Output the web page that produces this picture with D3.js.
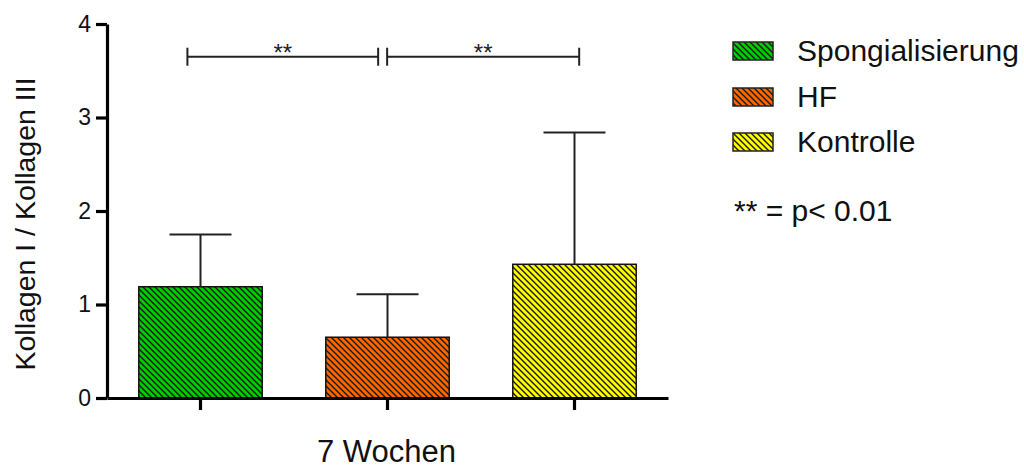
<!DOCTYPE html>
<html>
<head>
<meta charset="utf-8">
<script src="https://cdn.jsdelivr.net/npm/d3@7"></script>
<style>
  html, body { margin: 0; padding: 0; background: #fff; }
  svg { display: block; font-family: "Liberation Sans", Arial, sans-serif; }
</style>
</head>
<body>
<svg id="chart" width="1024" height="468"></svg>
<script>
// ---- data ----
const categories = ["Spongialisierung", "HF", "Kontrolle"];
const means = [1.19, 0.65, 1.43];
const errorsUp = [0.56, 0.46, 1.41];
const colors = ["#00CC00", "#FF6600", "#FFFF00"];
const yTicks = [0, 1, 2, 3, 4];
const groupLabel = "7 Wochen";
const yLabel = "Kollagen I / Kollagen III";
// significance brackets (positions in category-index units)
const sigFrom = [-0.07, 0.998];
const sigTo = [0.95, 2.025];
const sigValue = 3.65;
const sigLabel = ["**", "**"];
const noteText = "** = p< 0.01";

// ---- layout ----
const svg = d3.select("#chart");
const plotLeft = 107, plotRight = 668, plotTop = 24, plotBottom = 398;

const y = d3.scaleLinear().domain([0, 4]).range([plotBottom, plotTop]);
const x = d3.scaleBand().domain(categories).range([plotLeft, plotRight])
  .paddingInner(0.34).paddingOuter(0.17);
const xi = d3.scaleLinear().domain([0, 1]).range([x(categories[0]) + x.bandwidth()/2, x(categories[1]) + x.bandwidth()/2]);

// hatch patterns
const defs = svg.append("defs");
colors.forEach((c, i) => {
  const p = defs.append("pattern")
    .attr("id", "hatch" + i)
    .attr("patternUnits", "userSpaceOnUse")
    .attr("width", 6).attr("height", 6);
  p.append("rect").attr("width", 6).attr("height", 6).attr("fill", c);
  p.append("path")
    .attr("d", "M-1,-1 L7,7 M-4,2 L2,8 M4,-2 L8,2")
    .attr("stroke", "#1a1a1a").attr("stroke-width", 1.4);
});

// bars
svg.append("g").selectAll("rect").data(categories).join("rect")
  .attr("x", d => x(d))
  .attr("y", (d, i) => y(means[i]))
  .attr("width", x.bandwidth())
  .attr("height", (d, i) => y(0) - y(means[i]))
  .attr("fill", (d, i) => "url(#hatch" + i + ")")
  .attr("stroke", "#111").attr("stroke-width", 1.5);

// error bars (upper only)
const capW = 62;
const eb = svg.append("g").attr("stroke", "#222").attr("stroke-width", 2);
categories.forEach((d, i) => {
  const cx = x(d) + x.bandwidth()/2;
  eb.append("line").attr("x1", cx).attr("x2", cx)
    .attr("y1", y(means[i])).attr("y2", y(means[i] + errorsUp[i]));
  eb.append("line").attr("x1", cx - capW/2).attr("x2", cx + capW/2)
    .attr("y1", y(means[i] + errorsUp[i])).attr("y2", y(means[i] + errorsUp[i]));
});

// y axis
const yAxis = svg.append("g").attr("transform", `translate(${plotLeft},0)`)
  .call(d3.axisLeft(y).tickValues(yTicks).tickFormat(d3.format("d"))
    .tickSize(11).tickSizeOuter(0).tickPadding(5));
yAxis.select(".domain").attr("stroke", "#000").attr("stroke-width", 3.2);
yAxis.selectAll(".tick line").attr("stroke", "#000").attr("stroke-width", 3.2);
yAxis.selectAll(".tick text").attr("font-size", 23).attr("fill", "#111")
  .attr("font-family", "Liberation Sans, Arial, sans-serif");

// x axis
const xAxis = svg.append("g").attr("transform", `translate(0,${plotBottom})`)
  .call(d3.axisBottom(x).tickSize(12).tickSizeOuter(0).tickFormat(""));
xAxis.select(".domain").attr("stroke", "#000").attr("stroke-width", 3.2);
xAxis.selectAll(".tick line").attr("stroke", "#000").attr("stroke-width", 3.2);

// axis titles
svg.append("text")
  .attr("transform", `translate(35,${(plotTop + plotBottom)/2 + 13}) rotate(-90)`)
  .attr("text-anchor", "middle").attr("font-size", 28.5).attr("fill", "#111")
  .text(yLabel);
svg.append("text")
  .attr("x", (plotLeft + plotRight)/2 - 1).attr("y", 462)
  .attr("text-anchor", "middle").attr("font-size", 31).attr("fill", "#111")
  .text(groupLabel);

// significance brackets
const sg = svg.append("g");
sigFrom.forEach((f, k) => {
  const x1 = xi(f), x2 = xi(sigTo[k]), yy = y(sigValue);
  sg.append("line").attr("x1", x1).attr("x2", x2).attr("y1", yy).attr("y2", yy)
    .attr("stroke", "#222").attr("stroke-width", 2);
  [x1, x2].forEach(xx => sg.append("line").attr("x1", xx).attr("x2", xx)
    .attr("y1", yy - 9).attr("y2", yy + 9).attr("stroke", "#222").attr("stroke-width", 2));
  sg.append("text").attr("x", (x1 + x2)/2).attr("y", yy + 4)
    .attr("text-anchor", "middle").attr("font-size", 24).attr("fill", "#222")
    .text(sigLabel[k]);
});

// legend
const lg = svg.append("g");
const legY = [51, 97, 142];
categories.forEach((d, i) => {
  lg.append("rect").attr("x", 733).attr("y", legY[i] - 9).attr("width", 40).attr("height", 18)
    .attr("fill", "url(#hatch" + i + ")").attr("stroke", "#222").attr("stroke-width", 1.5);
  lg.append("text").attr("x", 797).attr("y", legY[i] + 10)
    .attr("font-size", 30).attr("fill", "#111").text(d);
});
lg.append("text").attr("x", 734).attr("y", 221)
  .attr("font-size", 30).attr("fill", "#111").text(noteText);
</script>
</body>
</html>
